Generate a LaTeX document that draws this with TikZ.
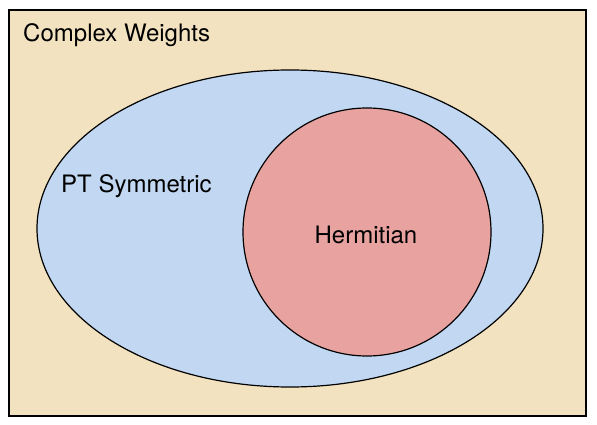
\documentclass[tikz,border=0pt]{standalone}
\usepackage{fontspec}
\setmainfont{TeX Gyre Heros}
\usetikzlibrary{positioning, shapes.geometric}
\definecolor{weightbg}{HTML}{F3E2C0}
\definecolor{ptblue}{HTML}{C2D8F2}
\definecolor{hermred}{HTML}{E8A3A1}

\begin{document}
\begin{tikzpicture}[
        x=1pt, y=-1pt,
        % 外枠のスタイル
        frame/.style={rectangle, draw, line width=2pt, fill=weightbg},
        % 集合のスタイル
        setshape/.style={ellipse, draw, line width=1.2pt, inner sep=0pt},
        % ラベルのスタイル
        label text/.style={font=\fontsize{24}{27}\selectfont, inner sep=0pt}
    ]
    \useasboundingbox (0,0) rectangle (597,425);

    % 集合の定義と配置
    \node[frame, minimum width=577pt, minimum height=405pt] (complex) at (297,213) {};
    \node[setshape, fill=ptblue, minimum width=506pt, minimum height=317pt] (pt) at (290,228.5) {};
    \node[setshape, fill=hermred, minimum width=248pt, minimum height=248pt] (herm) at (367,232) {};

    % ラベル
    \node[label text, anchor=west] (l_complex) at (23,35) {Complex Weights};
    \node[label text, anchor=west] (l_pt) at (61,186) {PT Symmetric};
    \node[label text] (l_herm) at (366,235) {Hermitian};

\end{tikzpicture}
\end{document}
